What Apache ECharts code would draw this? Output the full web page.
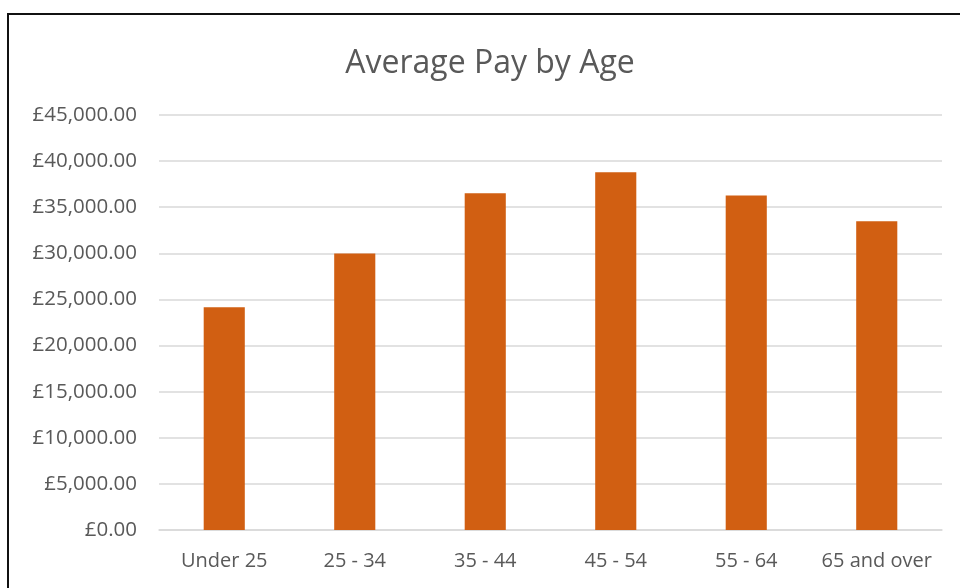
<!DOCTYPE html>
<html><head><meta charset="utf-8">
<script src="https://cdn.jsdelivr.net/npm/echarts@6/dist/echarts.min.js"></script>
<style>html,body{margin:0;padding:0;background:#fff}#c{width:960px;height:588px}</style>
</head><body><div id="c"></div>
<script>
const categories = ['Under 25', '25 - 34', '35 - 44', '45 - 54', '55 - 64', '65 and over'];
const payValues = [24150, 29980, 36520, 38780, 36280, 33480];
const yTicks = [0, 5000, 10000, 15000, 20000, 25000, 30000, 35000, 40000, 45000];

const chart = echarts.init(document.getElementById('c'), null, {renderer: 'canvas'});
const fmt = v => '£' + v.toLocaleString('en-GB', {minimumFractionDigits: 2, maximumFractionDigits: 2});
chart.setOption({
  animation: false,
  backgroundColor: '#fff',
  title: {
    text: 'Average Pay by Age', left: 485, top: 43, textAlign: 'center',
    textStyle: {fontFamily: 'Open Sans', fontWeight: 'normal', fontSize: 32, color: '#595959'}
  },
  graphic: [{
    type: 'rect', shape: {x: 8, y: 14, width: 1000, height: 700},
    style: {fill: 'none', stroke: '#111', lineWidth: 2}, silent: true
  }],
  grid: {left: 159, right: 18, top: 115, bottom: 58, containLabel: false},
  xAxis: {
    type: 'category', data: categories,
    axisLine: {lineStyle: {color: '#D9D9D9', width: 1.5}},
    axisTick: {show: false},
    axisLabel: {fontFamily: 'Open Sans', fontSize: 20, color: '#595959', margin: 21, interval: 0, hideOverlap: false}
  },
  yAxis: {
    type: 'value', min: yTicks[0], max: yTicks[yTicks.length - 1], interval: 5000,
    axisLine: {show: false}, axisTick: {show: false},
    splitLine: {lineStyle: {color: '#D9D9D9', width: 1.5}},
    axisLabel: {fontFamily: 'Open Sans', fontSize: 20.5, color: '#595959', margin: 22, formatter: fmt}
  },
  series: [{
    type: 'bar', data: payValues, barWidth: '31.5%',
    itemStyle: {color: '#D15F12'}
  }]
});
</script></body></html>
